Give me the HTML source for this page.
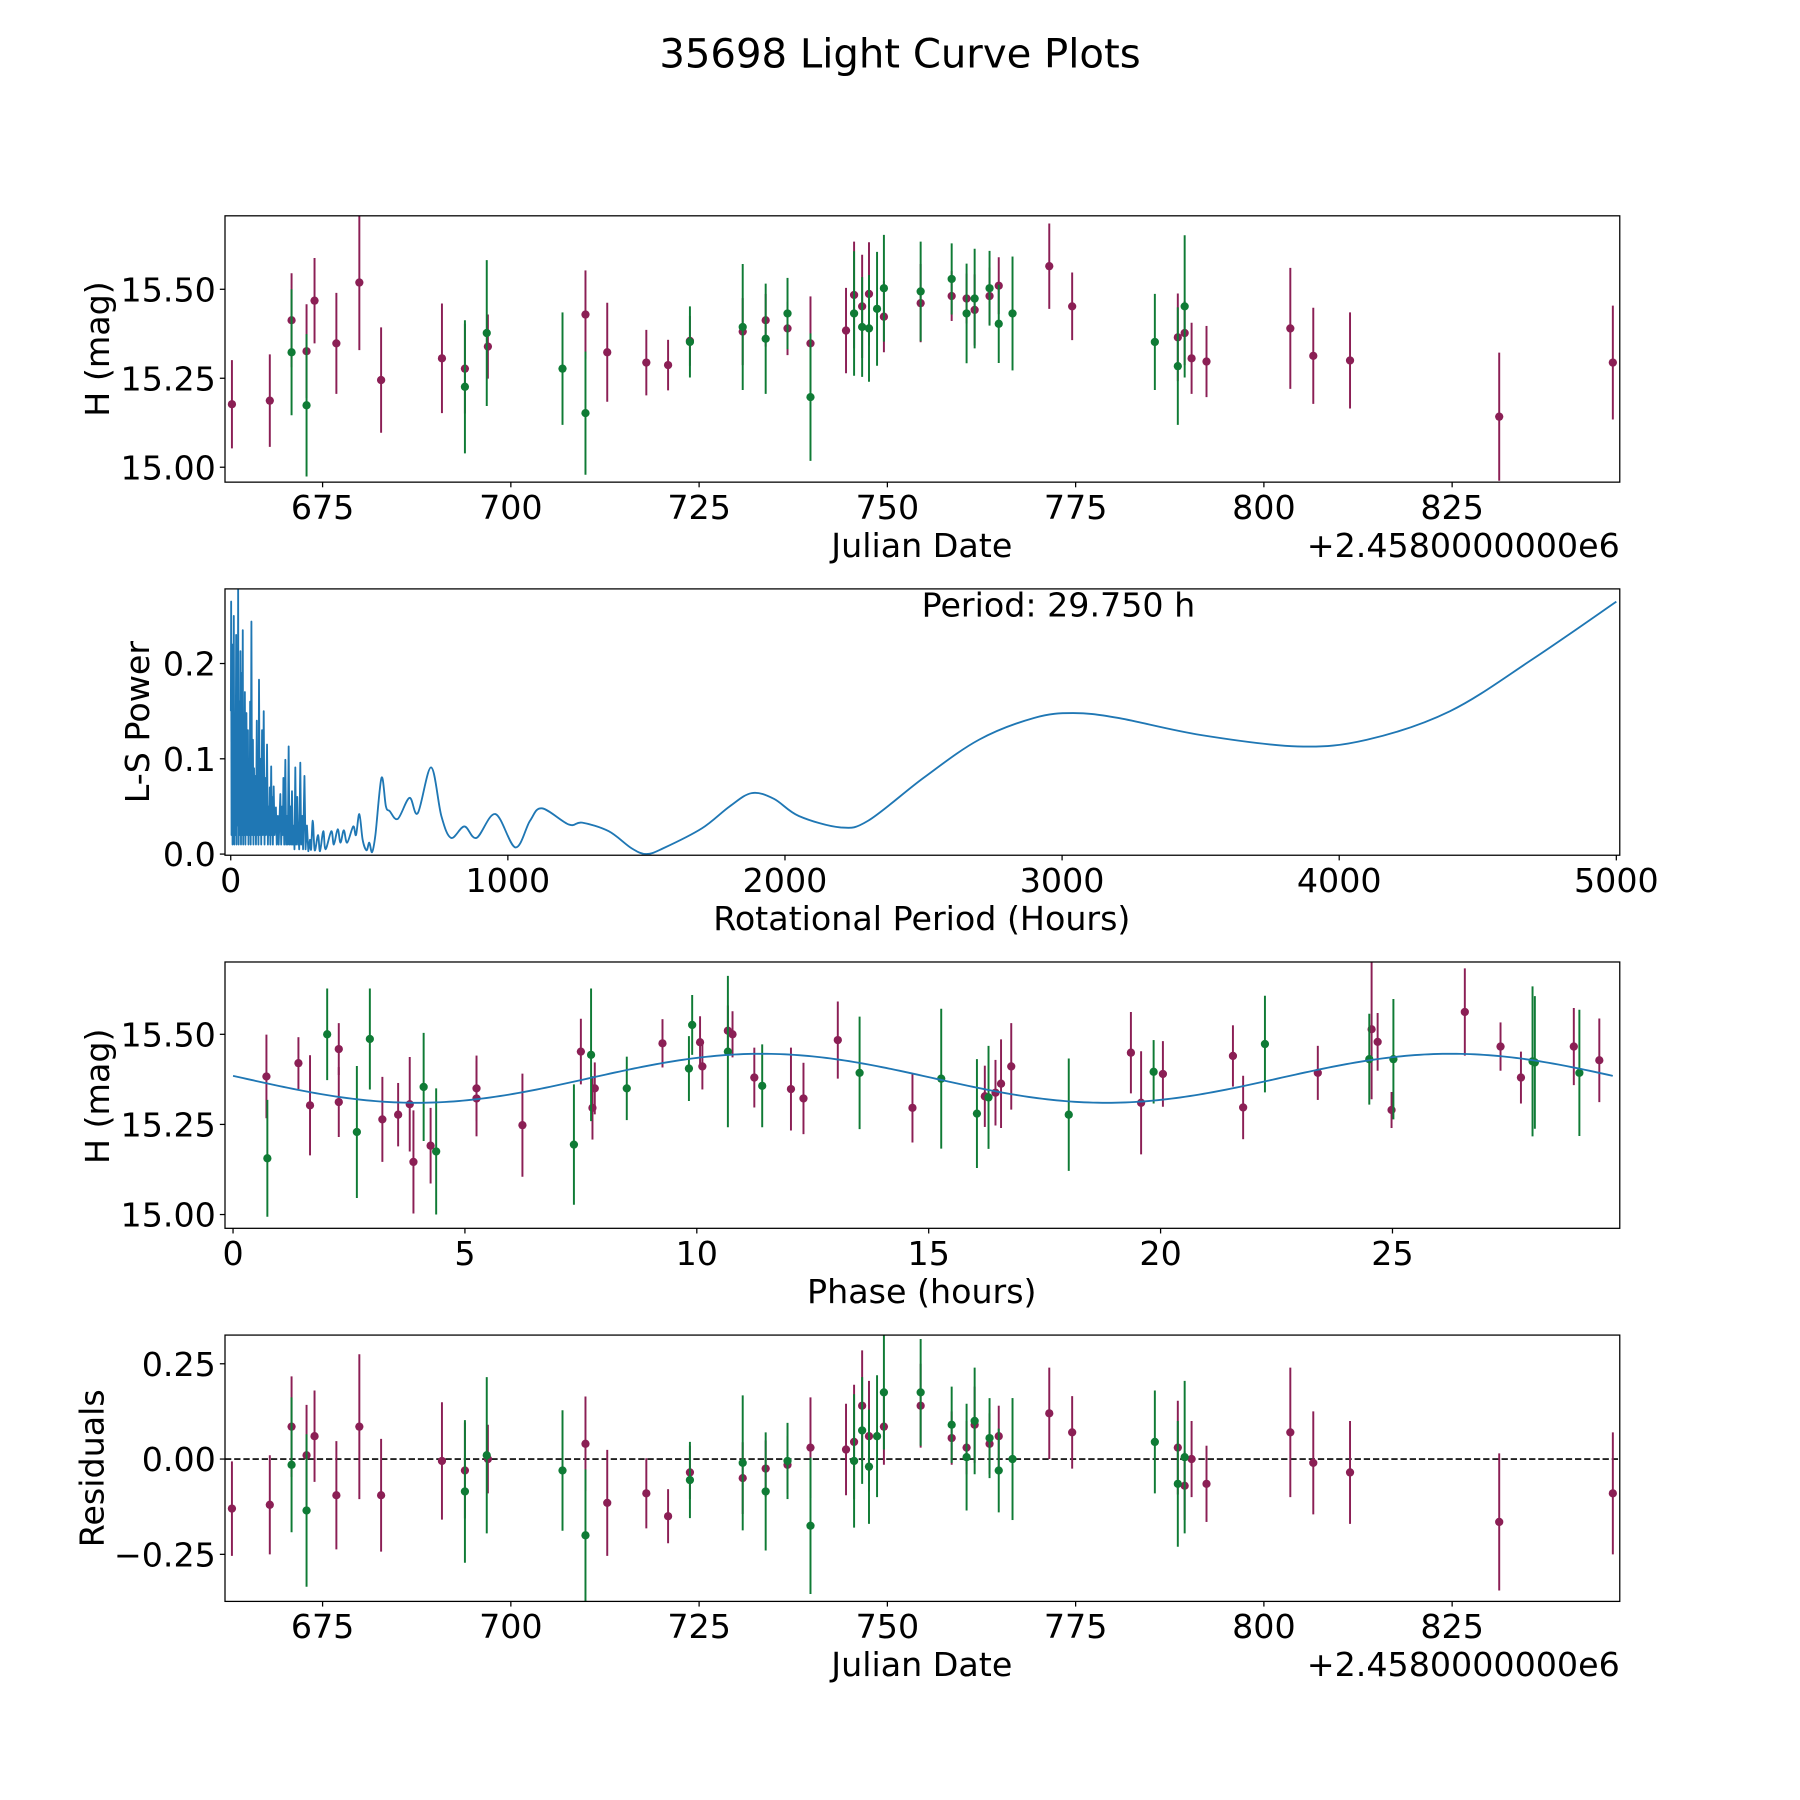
<!DOCTYPE html>
<html><head><meta charset="utf-8"><style>
html,body{margin:0;padding:0;background:#fff;}
svg{display:block;font-family:"DejaVu Sans","Liberation Sans",sans-serif;}
</style></head><body>
<svg id="fig" width="1800" height="1800" viewBox="0 0 1568 1568" xmlns="http://www.w3.org/2000/svg">
<rect x="0" y="0" width="1568" height="1568" fill="#fff"/>
<text x="784" y="59" font-size="35" text-anchor="middle">35698 Light Curve Plots</text>
</svg>
<script>
// ---------- Panel 1: light curve (Julian date) ----------
const jdValues = [662.96,667.99,670.88,670.88,672.87,672.87,673.93,676.83,679.88,682.77,690.85,693.9,693.9,696.8,696.95,706.86,709.91,709.91,712.8,717.99,720.88,723.78,723.78,730.79,730.79,733.84,733.84,736.74,736.74,739.79,739.79,744.51,745.58,745.58,746.65,746.65,747.56,747.56,748.63,749.54,749.54,754.42,754.42,758.54,758.54,760.52,760.52,761.59,761.59,763.57,763.57,764.79,764.79,766.62,771.5,774.54,785.52,788.57,788.57,789.48,789.48,790.4,792.38,803.51,806.56,811.44,831.25,846.34];
const magValues = [15.177,15.187,15.323,15.413,15.326,15.174,15.468,15.348,15.519,15.245,15.306,15.277,15.226,15.377,15.339,15.277,15.429,15.152,15.323,15.294,15.287,15.352,15.355,15.394,15.381,15.413,15.361,15.39,15.432,15.348,15.197,15.384,15.484,15.432,15.452,15.394,15.487,15.39,15.445,15.503,15.423,15.461,15.494,15.481,15.529,15.474,15.432,15.442,15.474,15.481,15.503,15.51,15.403,15.432,15.565,15.452,15.352,15.365,15.284,15.452,15.377,15.306,15.297,15.39,15.313,15.3,15.142,15.294];
const magErrors = [0.124,0.13,0.177,0.132,0.132,0.2,0.12,0.142,0.19,0.148,0.154,0.126,0.187,0.205,0.09,0.158,0.124,0.173,0.139,0.092,0.071,0.1,0.07,0.177,0.094,0.074,0.155,0.075,0.1,0.132,0.179,0.12,0.15,0.175,0.145,0.14,0.145,0.15,0.16,0.15,0.1,0.11,0.14,0.07,0.1,0.07,0.14,0.1,0.14,0.08,0.105,0.08,0.11,0.16,0.12,0.095,0.135,0.123,0.165,0.2,0.09,0.1,0.1,0.17,0.135,0.135,0.18,0.16];
const filterBands = ["m","m","g","m","m","g","m","m","m","m","m","m","g","g","m","g","m","g","m","m","m","g","m","g","m","m","g","m","g","m","g","m","m","g","m","g","m","g","g","g","m","m","g","m","g","m","g","m","g","m","g","m","g","g","m","m","g","m","g","g","m","m","m","m","m","m","m","m"];
const residualValues = [-0.13,-0.12,-0.015,0.085,0.01,-0.135,0.06,-0.095,0.085,-0.095,-0.005,-0.03,-0.085,0.01,0.0,-0.03,0.04,-0.2,-0.115,-0.09,-0.15,-0.055,-0.035,-0.01,-0.05,-0.025,-0.085,-0.015,-0.005,0.03,-0.175,0.025,0.045,-0.005,0.14,0.075,0.06,-0.02,0.06,0.175,0.085,0.14,0.175,0.055,0.09,0.03,0.005,0.09,0.1,0.04,0.055,0.06,-0.03,0.0,0.12,0.07,0.045,0.03,-0.065,0.005,-0.07,0.0,-0.065,0.07,-0.01,-0.035,-0.165,-0.09];
const jdTicks = [675,700,725,750,775,800,825];
const magTicks = [15.00,15.25,15.50];
const residTicks = [-0.25,0.00,0.25];

// ---------- Panel 2: periodogram ----------
const lsNoiseHours = [0.5,1.5,3,5,6.5,8,9.5,11,13,15,17,19.5,21,23,25,26.7,28.5,31,33,35,37,39,41,43.4,45,47,49,51,53,56.6,59,62,64,66,68,70,72,74.6,77,80,82,84,86,89,91,94,96,98,100,102,105,108,110,113,116,119,122,124,127,131,134,137,139,141,143,146,148,150,152,155,158,163,166,170,173,179,182,186,188,190,193,197,200,203,206,209,212,215,218,221,224,228,230,233,236,240,243,245,247,251,254,258,261,266,270,275,280,286];
const lsNoisePower = [0.15,0.265,0.02,0.18,0.01,0.22,0.02,0.25,0.01,0.12,0.02,0.23,0.01,0.2,0.03,0.28,0.01,0.16,0.02,0.213,0.01,0.19,0.02,0.235,0.01,0.1,0.02,0.17,0.01,0.148,0.02,0.13,0.01,0.1,0.02,0.16,0.01,0.244,0.02,0.12,0.01,0.09,0.02,0.082,0.01,0.14,0.02,0.06,0.01,0.183,0.02,0.1,0.01,0.13,0.02,0.15,0.01,0.08,0.02,0.115,0.01,0.05,0.02,0.07,0.01,0.092,0.02,0.06,0.01,0.071,0.02,0.049,0.01,0.04,0.01,0.063,0.01,0.05,0.02,0.08,0.01,0.099,0.01,0.04,0.01,0.113,0.01,0.05,0.01,0.066,0.01,0.03,0.005,0.091,0.01,0.06,0.01,0.02,0.005,0.096,0.01,0.04,0.005,0.082,0.005,0.03,0.003,0.015];
const lsSmoothHours = [290,296,303,315,322,334,342,363,372,386,396,408,420,442,452,464,476,490,500,510,522,544,560,574,603,645,675,723,760,795,843,887,955,1027,1080,1123,1220,1268,1364,1447,1500,1560,1700,1800,1880,1960,2050,2200,2300,2500,2700,2900,3040,3200,3500,3850,4100,4400,4700,5000];
const lsSmoothPower = [0.005,0.035,0.004,0.02,0.003,0.024,0.005,0.024,0.01,0.026,0.012,0.025,0.012,0.029,0.02,0.042,0.015,0.004,0.012,0.002,0.02,0.08,0.05,0.045,0.037,0.059,0.043,0.091,0.04,0.017,0.029,0.017,0.042,0.007,0.035,0.048,0.031,0.033,0.024,0.006,0.0,0.006,0.027,0.05,0.064,0.058,0.04,0.028,0.035,0.08,0.12,0.143,0.148,0.143,0.125,0.113,0.12,0.15,0.205,0.265];
const periodTicks = [0,1000,2000,3000,4000,5000];
const powerTicks = [0.0,0.1,0.2];

// ---------- Panel 3: phased light curve ----------
const phaseValues = [0.72,0.74,1.41,1.66,2.03,2.28,2.28,2.67,2.95,3.22,3.56,3.81,3.89,4.11,4.26,4.38,5.25,5.25,6.24,7.35,7.5,7.72,7.75,7.8,8.49,9.26,9.9,9.83,10.07,10.12,10.67,10.67,10.77,11.24,11.41,12.03,12.3,13.04,13.51,14.65,15.27,16.04,16.21,16.29,16.44,16.56,16.78,18.02,19.36,19.58,19.85,20.05,21.56,21.78,22.25,23.39,24.5,24.55,24.68,24.98,25.02,26.56,27.33,27.77,28.02,28.07,28.91,29.03,29.46];
const phaseMags = [15.383,15.156,15.42,15.303,15.5,15.459,15.312,15.229,15.487,15.264,15.277,15.306,15.146,15.354,15.191,15.175,15.35,15.322,15.248,15.194,15.452,15.443,15.296,15.35,15.35,15.475,15.526,15.405,15.478,15.411,15.452,15.51,15.5,15.38,15.357,15.348,15.322,15.484,15.393,15.296,15.377,15.28,15.328,15.325,15.338,15.363,15.411,15.277,15.449,15.31,15.396,15.39,15.44,15.297,15.473,15.393,15.431,15.514,15.479,15.29,15.431,15.562,15.466,15.38,15.425,15.422,15.466,15.393,15.428];
const phaseErrors = [0.116,0.162,0.072,0.139,0.127,0.072,0.097,0.183,0.14,0.118,0.088,0.131,0.143,0.15,0.105,0.175,0.091,0.105,0.143,0.167,0.091,0.184,0.088,0.072,0.088,0.067,0.083,0.09,0.072,0.064,0.21,0.07,0.064,0.083,0.115,0.115,0.099,0.107,0.156,0.096,0.194,0.151,0.085,0.143,0.091,0.123,0.12,0.156,0.113,0.143,0.088,0.091,0.085,0.088,0.134,0.075,0.126,0.194,0.08,0.05,0.167,0.121,0.067,0.072,0.208,0.184,0.107,0.175,0.116];
const phaseBands = ["m","g","m","m","g","m","m","g","g","m","m","m","m","g","m","g","m","m","m","g","m","g","m","m","g","m","g","g","m","m","g","m","m","m","g","m","m","m","g","m","g","g","m","g","m","m","m","g","m","m","g","m","m","m","g","m","g","m","m","m","g","m","m","m","g","g","m","g","m"];
const modelPeriod = 29.75;
const modelMean = 15.378;
const modelAmp = 0.068;
const modelShift = -0.1;
const phaseTicks = [0,5,10,15,20,25];

const NS = "http://www.w3.org/2000/svg";
const svg = document.getElementById("fig");
const COLORS = {m:"#8b1f55", g:"#0f7b35"};
const FS = 29;
function mk(tag, attrs, parent){
  const e = document.createElementNS(NS, tag);
  for (const k in attrs) e.setAttribute(k, attrs[k]);
  (parent||svg).appendChild(e);
  return e;
}
function scale(d0,d1,r0,r1){ return v => r0 + (v-d0)/(d1-d0)*(r1-r0); }

const L = 196, R = 1411;
function axesFrame(top, bottom, name){
  const g = mk("g", {});
  
  
  return g;
}
function drawFrame(g, top, bottom){
  const f = mk("rect", {x:L, y:top, width:R-L, height:bottom-top, fill:"none", stroke:"#000", "stroke-width":1.1}, g);
  
  
}
function xTicks(g, ticks, xs, bottom, fmt){
  ticks.forEach(t => {
    const x = xs(t);
    const l = mk("line", {x1:x, x2:x, y1:bottom, y2:bottom+4.5, stroke:"#000", "stroke-width":1.1}, g);
    
    
    const tx = mk("text", {x:x, y:bottom+32, "font-size":FS, "text-anchor":"middle"}, g);
    tx.textContent = fmt(t);
    
    
  });
}
function yTicks(g, ticks, ys, fmt){
  ticks.forEach(t => {
    const y = ys(t);
    const l = mk("line", {x1:L-4.5, x2:L, y1:y, y2:y, stroke:"#000", "stroke-width":1.1}, g);
    
    
    const tx = mk("text", {x:L-8, y:y+10.5, "font-size":FS, "text-anchor":"end"}, g);
    tx.textContent = fmt(t);
    
    
  });
}
function label(g, txt, x, y, rot, name, anchor){
  const t = mk("text", {x:x, y:y, "font-size":FS, "text-anchor":anchor||"middle"}, g);
  if (rot) t.setAttribute("transform", `rotate(-90 ${x} ${y})`);
  t.textContent = txt;
  
  
}
function errPoints(g, xsArr, ysArr, errArr, bands, xs, ys, name){
  ["m","g"].forEach(b => {
    xsArr.forEach((v,i) => {
      if (bands[i] !== b) return;
      const x = xs(v), y = ys(ysArr[i]);
      const y1 = ys(ysArr[i]+errArr[i]), y2 = ys(ysArr[i]-errArr[i]);
      const ln = mk("line", {x1:x, x2:x, y1:y1, y2:y2, stroke:COLORS[b], "stroke-width":1.7}, g);
      
      
      const c = mk("circle", {cx:x, cy:y, r:3.6, fill:COLORS[b]}, g);
      
      
    });
  });
}
const f2 = v => v.toFixed(2);
const f1 = v => v.toFixed(1);
const f0 = v => String(v);
const fres = v => (v < 0 ? "\u2212" + Math.abs(v).toFixed(2) : v.toFixed(2));

// Panel 1
(function(){
  const top=188, bottom=420;
  const xs = scale(662.04, 847.26, L, R), ys = scale(15.0, 15.5, 407, 252);
  const g = axesFrame(top,bottom,'light-curve-panel');
  const clip = mk("clipPath", {id:"c1"}, svg); mk("rect",{x:L,y:top,width:R-L,height:bottom-top},clip);
  const d = mk("g", {"clip-path":"url(#c1)"}, g);
  errPoints(d, jdValues, magValues, magErrors, filterBands, xs, ys, 'magnitude');
  drawFrame(g, top, bottom);
  xTicks(g, jdTicks, xs, bottom, f0);
  yTicks(g, magTicks, ys, f2);
  label(g, "Julian Date", 803, 485, false, 'x-axis-title');
  label(g, "+2.4580000000e6", 1411, 485, false, 'x-offset-label', 'end');
  label(g, "H (mag)", 95, 304, true, 'y-axis-title');
})();

// Panel 2
(function(){
  const top=513, bottom=745;
  const xs = scale(0, 5000, 201, 1408), ys = scale(0, 0.1, 744, 661);
  const g = axesFrame(top,bottom,'periodogram-panel');
  const clip = mk("clipPath", {id:"c2"}, svg); mk("rect",{x:L,y:top,width:R-L,height:bottom-top},clip);
  const d = mk("g", {"clip-path":"url(#c2)"}, g);
  let pts = lsNoiseHours.map((h,i)=>[xs(h), ys(lsNoisePower[i])]);
  const sm = lsSmoothHours.map((h,i)=>[xs(h), ys(lsSmoothPower[i])]);
  let path = "M" + pts.map(p=>p[0].toFixed(2)+","+p[1].toFixed(2)).join(" L");
  const all = [pts[pts.length-1]].concat(sm);
  for (let i=0;i<all.length-1;i++){
    const p0 = all[Math.max(0,i-1)], p1 = all[i], p2 = all[i+1], p3 = all[Math.min(all.length-1,i+2)];
    const c1 = [p1[0]+(p2[0]-p0[0])/6, p1[1]+(p2[1]-p0[1])/6];
    const c2 = [p2[0]-(p3[0]-p1[0])/6, p2[1]-(p3[1]-p1[1])/6];
    path += ` C${c1[0].toFixed(2)},${c1[1].toFixed(2)} ${c2[0].toFixed(2)},${c2[1].toFixed(2)} ${p2[0].toFixed(2)},${p2[1].toFixed(2)}`;
  }
  const pl = mk("path", {d:path, fill:"none", stroke:"#1f77b4", "stroke-width":1.6, "stroke-linejoin":"round"}, d);
  
  
  drawFrame(g, top, bottom);
  xTicks(g, periodTicks, xs, bottom, f0);
  yTicks(g, powerTicks, ys, f1);
  label(g, "Period: 29.750 h", 922, 537, false, 'period-annotation');
  label(g, "Rotational Period (Hours)", 803, 810, false, 'x-axis-title');
  label(g, "L-S Power", 130, 629, true, 'y-axis-title');
})();

// Panel 3
(function(){
  const top=838, bottom=1070;
  const xs = scale(0, 25, 203, 1213), ys = scale(15.0, 15.5, 1058, 901);
  const g = axesFrame(top,bottom,'phase-panel');
  const clip = mk("clipPath", {id:"c3"}, svg); mk("rect",{x:L,y:top,width:R-L,height:bottom-top},clip);
  const d = mk("g", {"clip-path":"url(#c3)"}, g);
  errPoints(d, phaseValues, phaseMags, phaseErrors, phaseBands, xs, ys, 'phase');
  let path = "";
  for (let i=0;i<=300;i++){
    const p = modelPeriod*i/300;
    const v = modelMean - modelAmp*Math.sin(4*Math.PI*p/modelPeriod + modelShift);
    path += (i? " L":"M") + xs(p).toFixed(2) + "," + ys(v).toFixed(2);
  }
  const ml = mk("path", {d:path, fill:"none", stroke:"#1f77b4", "stroke-width":1.6}, d);
  
  
  drawFrame(g, top, bottom);
  xTicks(g, phaseTicks, xs, bottom, f0);
  yTicks(g, magTicks, ys, f2);
  label(g, "Phase (hours)", 803, 1135, false, 'x-axis-title');
  label(g, "H (mag)", 95, 955, true, 'y-axis-title');
})();

// Panel 4
(function(){
  const top=1163, bottom=1395;
  const xs = scale(662.04, 847.26, L, R), ys = scale(0, 0.25, 1271, 1188);
  const g = axesFrame(top,bottom,'residuals-panel');
  const clip = mk("clipPath", {id:"c4"}, svg); mk("rect",{x:L,y:top,width:R-L,height:bottom-top},clip);
  const d = mk("g", {"clip-path":"url(#c4)"}, g);
  const zl = mk("line", {x1:L, x2:R, y1:ys(0), y2:ys(0), stroke:"#000", "stroke-width":1.5, "stroke-dasharray":"5.5,2.5"}, d);
  
  
  errPoints(d, jdValues, residualValues, magErrors, filterBands, xs, ys, 'residual');
  drawFrame(g, top, bottom);
  xTicks(g, jdTicks, xs, bottom, f0);
  yTicks(g, residTicks, ys, fres);
  label(g, "Julian Date", 803, 1460, false, 'x-axis-title');
  label(g, "+2.4580000000e6", 1411, 1460, false, 'x-offset-label', 'end');
  label(g, "Residuals", 90, 1279, true, 'y-axis-title');
})();
</script>
</body></html>
